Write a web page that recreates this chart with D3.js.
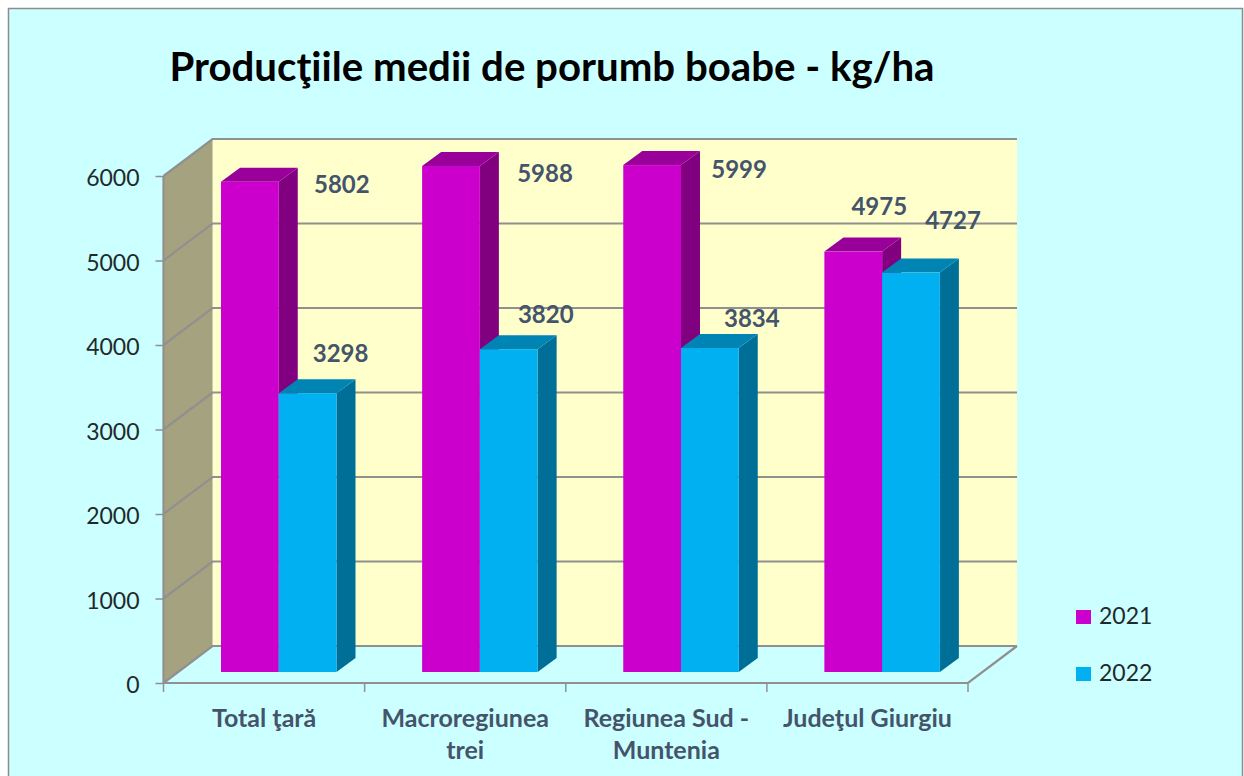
<!DOCTYPE html>
<html>
<head>
<meta charset="utf-8">
<script src="https://cdnjs.cloudflare.com/ajax/libs/d3/7.8.5/d3.min.js"></script>
<style>
    html, body { margin: 0; padding: 0; background: #fff; }
    svg { display: block; }
    text { font-family: Lato, "Open Sans", sans-serif; }
</style>
</head>
<body>
<script>
const w = 1244;
const h = 776;

const categories = [["Total ţară"], ["Macroregiunea", "trei"], ["Regiunea Sud -", "Muntenia"], ["Judeţul Giurgiu"]];
const seriesNames = ["2021", "2022"];
const values2021 = [5802, 5988, 5999, 4975];
const values2022 = [3298, 3820, 3834, 4727];
const yTicks = [0, 1000, 2000, 3000, 4000, 5000, 6000];

const colors = { "2021": ["#cc00cc", "#990099", "#800080"], "2022": ["#00b0f0", "#0084b4", "#006f98"] };
const grid = "#909090";

// depth of the 3d box and of the bars
const wallDx = 49, wallDy = -37;
const floorDy = -11;
const barDx = 19, barDy = -14;

let svg = d3.select("body")
    .append("svg")
    .attr("width", w)
    .attr("height", h);

let x = d3.scaleBand()
    .domain(d3.range(categories.length))
    .range([163.5, 968]);

// bars start 57px into each category
let inner = d3.scaleBand()
    .domain(seriesNames)
    .range([57.5, 173]);

let y = d3.scaleLinear()
    .domain([0, 6000])
    .range([683, 176]);

// background, runs off the bottom of the page
svg.append("rect")
    .attr("x", 8.5).attr("y", 8.5)
    .attr("width", 1234).attr("height", h)
    .attr("fill", "#ccffff")
    .attr("stroke", "#8c8c8c")
    .attr("stroke-width", 1.5);

const [x0, x1] = x.range();

// back wall
svg.append("rect")
    .attr("x", x0 + wallDx).attr("y", y(6000) + wallDy)
    .attr("width", x1 - x0).attr("height", y(0) - y(6000))
    .attr("fill", "#ffffcc");

// side wall
svg.append("path")
    .attr("d", d3.line()([[x0, y(0)], [x0, y(6000)], [x0 + wallDx, y(6000) + wallDy], [x0 + wallDx, y(0) + wallDy]]))
    .attr("fill", "#a5a27f");

// gridlines on both walls
svg.append("g").selectAll("path")
    .data(yTicks)
    .join("path")
    .attr("d", (d) => d3.line()([[x0, y(d)], [x0 + wallDx, y(d) + wallDy], [x1 + wallDx, y(d) + wallDy]]))
    .attr("fill", "none")
    .attr("stroke", grid)
    .attr("stroke-width", 2.2);

// floor edges
svg.append("path")
    .attr("d", d3.line()([[x0, y(0)], [x1, y(0)], [x1 + wallDx, y(0) + wallDy]]))
    .attr("fill", "none")
    .attr("stroke", grid)
    .attr("stroke-width", 2.2);

svg.append("path")
    .attr("d", d3.line()([[x0, y(6000)], [x0, y(0)]]))
    .attr("stroke", grid)
    .attr("stroke-width", 2.2);

// y axis
let axisY = d3.axisLeft(y).tickValues(yTicks).tickSize(8).tickPadding(16).tickFormat(d3.format("d"));
let gY = svg.append("g")
    .attr("transform", `translate(${x0}, 0)`)
    .call(axisY);
gY.select(".domain").remove();
gY.selectAll("line").attr("stroke", grid).attr("stroke-width", 1.5);
gY.selectAll("text")
    .attr("font-size", 23)
    .attr("dy", "0.42em")
    .attr("fill", "#1f2a2a")
    .style("font-family", "Lato");

// x axis ticks between categories
svg.append("g").selectAll("line")
    .data(d3.range(categories.length + 1))
    .join("line")
    .attr("x1", (i) => i < categories.length ? x(i) : x1)
    .attr("x2", (i) => i < categories.length ? x(i) : x1)
    .attr("y1", y(0))
    .attr("y2", y(0) + 9)
    .attr("stroke", grid)
    .attr("stroke-width", 1.5);

// bars: draw back to front so the 2022 box sits over the 2021 side face
function drawBar(g, i, name, value) {
    const c = colors[name];
    const left = x(i) + inner(name);
    const right = left + inner.bandwidth();
    const bottom = y(0) + floorDy;
    const top = y(value) + floorDy;
    g.append("path")
        .attr("d", d3.line()([[right, bottom], [right, top], [right + barDx, top + barDy], [right + barDx, bottom + barDy]]))
        .attr("fill", c[2]);
    g.append("path")
        .attr("d", d3.line()([[left, top], [right, top], [right + barDx, top + barDy], [left + barDx, top + barDy]]))
        .attr("fill", c[1]);
    g.append("rect")
        .attr("x", left).attr("y", top)
        .attr("width", right - left).attr("height", bottom - top)
        .attr("fill", c[0]);
}

let bars = svg.append("g");
categories.forEach((cat, i) => {
    drawBar(bars, i, "2021", values2021[i]);
    drawBar(bars, i, "2022", values2022[i]);
});

// value labels, moved by hand off the bars like in the original
const labelOffsets2021 = [[92, 11.5], [94, 16], [87, 12.5], [26, -36.5]];
const labelOffsets2022 = [[33, -31], [37, -26], [42, -21.5], [42, -44]];

function valueLabels(vals, name, offsets) {
    svg.append("g").selectAll("text")
        .data(vals)
        .join("text")
        .attr("x", (d, i) => x(i) + inner(name) + inner.bandwidth() / 2 + offsets[i][0])
        .attr("y", (d, i) => y(d) + floorDy + offsets[i][1])
        .attr("text-anchor", "middle")
        .attr("font-size", 24)
        .attr("font-weight", 700)
        .attr("fill", "#44546a")
        .text((d) => d);
}
valueLabels(values2021, "2021", labelOffsets2021);
valueLabels(values2022, "2022", labelOffsets2022);

// category labels
let catLabels = svg.append("g").selectAll("text")
    .data(categories)
    .join("text")
    .attr("text-anchor", "middle")
    .attr("font-size", 25)
    .attr("font-weight", 700)
    .attr("fill", "#44546a");
catLabels.selectAll("tspan")
    .data((d, i) => d.map((line) => ({ line, i })))
    .join("tspan")
    .attr("x", (d) => x(d.i) + x.bandwidth() / 2)
    .attr("y", (d, k) => 727 + k * 32)
    .text((d) => d.line);

// legend
let legend = svg.append("g").selectAll("g")
    .data(seriesNames)
    .join("g")
    .attr("transform", (d, i) => `translate(1076, ${610 + i * 57})`);
legend.append("rect")
    .attr("width", 15).attr("height", 14)
    .attr("fill", (d) => colors[d][0]);
legend.append("text")
    .attr("x", 23).attr("y", 14)
    .attr("font-size", 23)
    .attr("fill", "#1f2a2a")
    .text((d) => d);

// title
svg.append("text")
    .attr("x", 169.5)
    .attr("y", 81)
    .attr("font-size", 40.2)
    .attr("font-weight", 700)
    .attr("fill", "#000")
    .text("Producţiile medii de porumb boabe - kg/ha");
</script>
</body>
</html>
